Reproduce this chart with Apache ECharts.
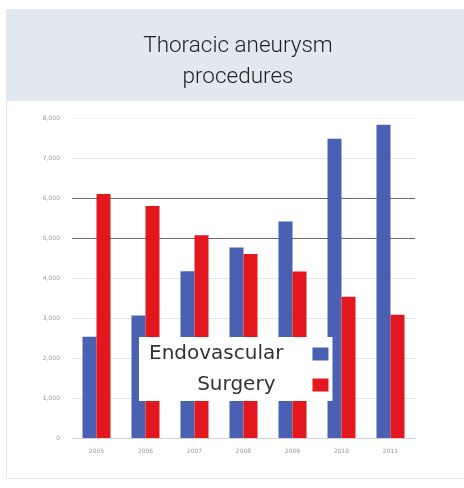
<!DOCTYPE html>
<html><head><meta charset="utf-8">
<script src="https://cdn.jsdelivr.net/npm/echarts@6/dist/echarts.min.js"></script>
<style>html,body{margin:0;padding:0;background:#fff;}#c{width:464px;height:488px;}</style>
</head><body><div id="c"></div>
<script>
const categories = ['2005','2006','2007','2008','2009','2010','2011'];
const endovascular = [2530, 3060, 4170, 4760, 5410, 7480, 7830];
const surgery = [6100, 5800, 5070, 4600, 4160, 3530, 3080];
const yTicks = { min: 0, max: 8000, interval: 1000 };

const chart = echarts.init(document.getElementById('c'), null, {renderer:'canvas'});
const gridColors = ['#d8d8d8','#e6e6e6','#e6e6e6','#e6e6e6','#e6e6e6','#6a6a6a','#6a6a6a','#e6e6e6','#f0f0f0'];
chart.setOption({
  animation: false,
  backgroundColor: '#fff',
  graphic: [
    { type: 'rect', shape: { x: 6, y: 9, width: 458, height: 91 }, style: { fill: '#e2e8f0' }, z: -10 },
    { type: 'rect', shape: { x: 6.5, y: 100.5, width: 460, height: 378 }, style: { fill: 'none', stroke: '#e8e8e8', lineWidth: 1 }, z: -10 }
  ],
  title: {
    text: 'Thoracic aneurysm\nprocedures',
    left: 233, top: 26, textAlign: 'center',
    textStyle: { fontFamily: 'Roboto', fontWeight: 300, fontSize: 22.5, lineHeight: 31, color: '#222' }
  },
  grid: { left: 72, right: 49, top: 118, bottom: 50 },
  xAxis: {
    type: 'category', data: categories,
    axisLine: { lineStyle: { color: '#d0d0d0' } },
    axisTick: { show: false },
    axisLabel: { fontSize: 6, color: '#999', margin: 10, fontFamily: 'DejaVu Sans' }
  },
  yAxis: {
    type: 'value', min: yTicks.min, max: yTicks.max, interval: yTicks.interval,
    axisLine: { show: false },
    axisTick: { show: false },
    axisLabel: { fontSize: 6, color: '#999', margin: 12, fontFamily: 'DejaVu Sans',
      formatter: v => v === 0 ? '0' : v.toLocaleString('en-US') },
    splitLine: { lineStyle: { color: gridColors, width: 1 } }
  },
  legend: {
    orient: 'vertical', left: 139, top: 337, align: 'right',
    itemWidth: 16, itemHeight: 13, itemGap: 11,
    backgroundColor: '#fff', padding: [7, 4, 6, 10],
    icon: 'rect',
    formatter: name => name === 'Surgery' ? '{s|' + name + '}' : '{e|' + name + '}',
    textStyle: {
      fontSize: 20, color: '#333', fontFamily: 'DejaVu Sans',
      rich: {
        e: { fontSize: 20, color: '#333', fontFamily: 'DejaVu Sans', padding: [0, 24, 0, 0] },
        s: { fontSize: 20, color: '#333', fontFamily: 'DejaVu Sans', padding: [0, 32, 0, 0] }
      }
    },
    data: ['Endovascular', 'Surgery']
  },
  series: [
    { name: 'Endovascular', type: 'bar', data: endovascular, barWidth: 14, barGap: '0%',
      itemStyle: { color: '#4a61b3' } },
    { name: 'Surgery', type: 'bar', data: surgery, barWidth: 14,
      itemStyle: { color: '#e3171e' } }
  ]
});
</script></body></html>
